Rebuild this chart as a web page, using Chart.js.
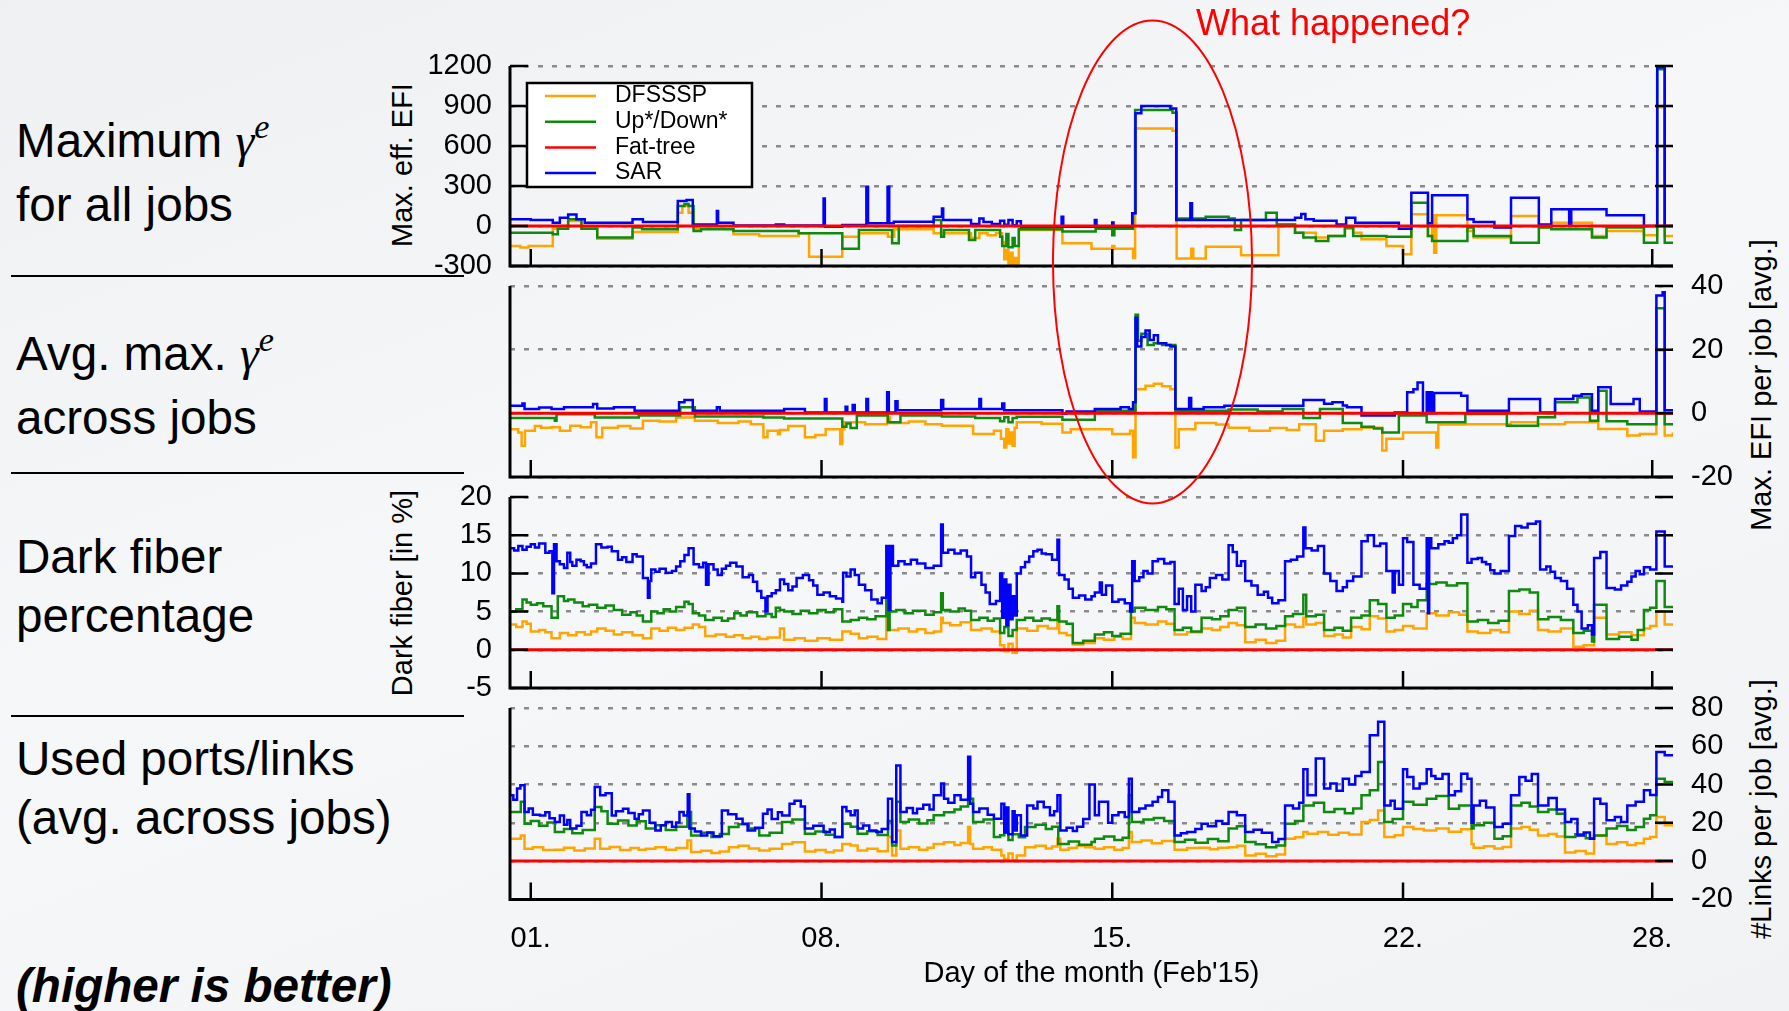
<!DOCTYPE html>
<html>
<head>
<meta charset="utf-8">
<script src="https://cdn.jsdelivr.net/npm/chart.js@4.4.1/dist/chart.umd.min.js"></script>
<style>
  html, body { margin: 0; padding: 0; }
  body {
    width: 1789px; height: 1011px; position: relative; overflow: hidden;
    background: linear-gradient(160deg, #eef0f2 0%, #f6f7f9 45%, #f1f2f4 100%);
    font-family: 'Liberation Sans', Arial, sans-serif; color: #000;
  }
  .panel { position: absolute; left: 380px; width: 1400px; }
  .lbl { position: absolute; left: 16px; font-size: 47.6px; line-height: 59px; white-space: nowrap; }
  .g { font-family: 'Liberation Serif', serif; font-style: italic; }
  .sup { font-size: 0.72em; position: relative; top: -0.55em; }
  .sep { position: absolute; left: 11px; width: 453px; height: 2px; background: #000; }
  .ytitle { position: absolute; font-size: 29px; white-space: nowrap; transform: translate(-50%, -50%) rotate(-90deg); }
</style>
</head>
<body>

<div class="lbl" style="top:111px">Maximum <span class="g">γ</span><span class="g sup">e</span><br>for all jobs</div>
<div class="sep" style="top:275px"></div>
<div class="lbl" style="top:324px">Avg. max. <span class="g">γ</span><span class="g sup">e</span><br>across jobs</div>
<div class="sep" style="top:472px"></div>
<div class="lbl" style="top:527px">Dark fiber<br>percentage</div>
<div class="sep" style="top:715px"></div>
<div class="lbl" style="top:729px">Used ports/links<br>(avg. across jobs)</div>
<div class="lbl" style="top:956px; font-weight:bold; font-style:italic">(higher is better)</div>

<div class="ytitle" style="left:402px; top:165px">Max. eff. EFI</div>
<div class="ytitle" style="left:402px; top:593px">Dark fiber [in %]</div>
<div class="ytitle" style="left:1761px; top:385px">Max. EFI per job [avg.]</div>
<div class="ytitle" style="left:1761px; top:809px">#Links per job [avg.]</div>

<div class="panel" style="top:30px; height:272px"><canvas id="c1"></canvas></div>
<div class="panel" style="top:250px; height:263px"><canvas id="c2"></canvas></div>
<div class="panel" style="top:461px; height:263px"><canvas id="c3"></canvas></div>
<div class="panel" style="top:672px; height:339px"><canvas id="c4"></canvas></div>

<div style="position:absolute; left:1196px; top:5px; font-size:36px; line-height:36px; color:#f00; white-space:nowrap">What happened?</div>
<svg style="position:absolute; left:0; top:0; pointer-events:none" width="1789" height="1011">
  <ellipse cx="1152.5" cy="262" rx="99.5" ry="241.5" fill="none" stroke="#f00" stroke-width="2"/>
</svg>

<script>
// x: days since Feb 1 00:00; ticks sit at midday
const tickDays = [0.5, 7.5, 14.5, 21.5, 27.5];
const tickLabels = ['01.', '08.', '15.', '22.', '28.'];
const seriesNames = ['DFSSSP', 'Up*/Down*', 'Fat-tree', 'SAR'];
const seriesColors = ['#ffa500', '#0f8a0f', '#ff0000', '#0000ff'];
const fatTree = [[0, 0], [28, 0]];

// panel 1: max. eff. EFI, [day, value] step breakpoints
const p1Dfsssp = [[0,-150],[0.25,-162],[0.45,-150],[1.03,-20],[1.2,0],[1.4,37],[1.72,-20],[2.1,-95],[2.95,-45],[4.04,100],[4.15,150],[4.3,100],[4.42,-20],[5.38,-62],[6.0,-75],[6.95,-55],[7.2,-230],[8.0,-80],[8.4,-55],[9.1,-80],[9.25,-25],[10.2,-55],[11.1,-90],[11.3,-55],[11.5,-70],[11.7,-55],[11.85,-120],[11.9,-250],[11.95,-180],[12.0,-300],[12.05,-200],[12.1,-290],[12.15,-240],[12.2,-300],[12.25,-30],[13.3,-130],[14.0,-170],[14.5,-150],[14.55,-170],[15.0,-240],[15.05,732],[15.95,715],[16.05,-243],[16.4,-170],[16.45,-243],[16.75,-155],[17.6,-220],[18.5,12],[18.9,-50],[19.4,-87],[19.7,-75],[20.1,-20],[20.3,-50],[20.5,-100],[21.1,-150],[21.5,-212],[21.7,88],[22.1,-75],[22.2,80],[22.25,-200],[22.3,80],[23.05,-37],[23.2,-87],[24.1,75],[24.77,-12],[25.07,25],[26.05,-75],[26.4,-37],[27.3,-70],[27.62,890],[27.8,-75],[28,-75]];
const p1Updown = [[0,-50],[1.03,-62],[1.15,-20],[1.4,50],[1.72,-20],[2.1,-87],[2.95,-12],[3.18,-25],[4.04,150],[4.2,165],[4.3,150],[4.42,-37],[4.6,-25],[5.38,-37],[6.95,-55],[8.0,-170],[8.4,-30],[9.2,-130],[9.36,0],[10.2,45],[10.38,-80],[10.45,-30],[11.05,-105],[11.2,-30],[11.8,-80],[11.85,-150],[11.95,-60],[12.0,-160],[12.1,-90],[12.15,-150],[12.25,-25],[13.3,-42],[14.1,0],[14.15,-20],[14.5,-70],[14.55,-20],[15.0,95],[15.05,870],[15.95,850],[16.05,57],[16.75,70],[17.3,57],[17.45,-30],[17.6,45],[18.2,100],[18.46,12],[18.9,-50],[19.1,-87],[19.4,-112],[19.7,-75],[20.1,-12],[20.3,-75],[21.1,-80],[21.7,175],[22.1,-75],[22.2,-112],[23.05,-12],[23.2,-75],[24.1,-125],[24.77,-12],[25.07,-25],[26.05,-87],[26.4,-12],[27.3,-125],[27.62,1175],[27.8,-125],[28,-125]];
const p1Sar = [[0,50],[0.5,45],[1.03,25],[1.2,62],[1.4,87],[1.6,50],[1.8,25],[2.95,50],[3.2,30],[4.04,187],[4.25,195],[4.4,12],[4.98,112],[5.01,25],[5.38,3],[6.4,12],[6.6,3],[7.55,207],[7.58,-5],[8.0,7],[8.58,295],[8.62,20],[9.09,295],[9.13,20],[9.24,32],[10.2,70],[10.4,132],[10.43,45],[11.1,15],[11.3,57],[11.4,30],[11.6,15],[11.8,40],[11.9,10],[12.0,45],[12.1,5],[12.2,35],[12.3,-5],[13.28,70],[13.32,-5],[14.08,45],[14.12,-5],[14.5,27],[14.53,-5],[14.98,95],[15.06,845],[15.2,900],[15.9,882],[16.04,45],[16.38,170],[16.42,45],[18.9,62],[19.05,90],[19.15,50],[19.35,40],[19.9,12],[20.13,62],[20.35,25],[21.4,-20],[21.7,250],[22.1,20],[22.2,230],[23.05,50],[23.2,30],[23.7,-12],[24.1,212],[24.77,12],[25.07,125],[25.5,0],[25.55,125],[26.4,80],[27.3,0],[27.62,1190],[27.8,0],[28,0]];

// panel 2: avg. max. EFI per job
const p2Dfsssp = [[0,-5],[0.2,-6],[0.28,-10.2],[0.36,-5.5],[0.6,-4],[0.75,-4.5],[1.0,-4.4],[1.2,-5.5],[1.45,-3.9],[1.7,-4.4],[1.95,-2.8],[2.08,-7.5],[2.22,-4.5],[2.6,-4.0],[2.9,-4.8],[3.2,-2.3],[3.6,-2.6],[4.0,-1.3],[4.45,-2.3],[5.0,-3.0],[5.5,-2.6],[5.8,-3.4],[6.1,-7.5],[6.2,-5.5],[6.45,-6.6],[6.5,-5.2],[6.7,-4],[7.1,-7.5],[7.35,-6.8],[7.6,-5],[7.95,-9.6],[8.0,-5],[8.05,-2.8],[8.55,-3.4],[9.08,-1.3],[9.15,-3],[9.6,-2.6],[10.0,-3.4],[10.4,-3.9],[11.15,-6.5],[11.65,-5.5],[11.82,-8],[11.9,-10.7],[11.95,-5],[12.0,-9.5],[12.05,-6],[12.1,-10.2],[12.15,-4.5],[12.2,-2.8],[12.8,-3.3],[13.3,-6],[13.5,-5],[14.5,-6.5],[14.93,-5.5],[15.0,-13.8],[15.06,7.6],[15.3,8.7],[15.5,9.3],[15.7,8.5],[15.9,7.6],[16.02,-10.7],[16.1,-5],[16.5,-3],[17.0,-3.5],[17.3,-4.5],[17.8,-5.5],[18.3,-4.6],[18.7,-5.2],[19.0,-3.4],[19.4,-8.6],[19.6,-5.5],[20.05,-5],[20.5,-4.5],[21.0,-11.7],[21.1,-8],[21.5,-6],[22.3,-10.7],[22.35,-3.5],[23.0,-3.4],[24.1,-2.8],[24.75,-3.4],[25.4,-2.8],[26.2,-4.9],[26.9,-7],[27.2,-6.5],[27.6,19.7],[27.8,-7],[28,-6]];
const p2Updown = [[0,-1.5],[1.08,-2.3],[1.12,-0.3],[2.04,-1.3],[3.1,-0.7],[4.1,1.9],[4.45,-1],[6.1,-1.3],[6.6,-1.6],[8.0,-4.2],[8.1,-3.2],[8.2,-4.6],[8.35,-0.7],[9.1,-2.8],[9.4,-0.7],[10.4,-1.0],[11.2,-1.5],[11.8,-2.5],[11.9,-1.2],[12.0,-2.8],[12.1,-1.5],[12.2,-1.1],[13.3,-2],[14.08,0.8],[15.06,31],[15.12,22.8],[15.2,25],[15.35,21.5],[15.5,22],[15.7,21.5],[16.02,0.8],[17.3,1.2],[18.0,0.6],[18.6,1.4],[19.1,-1.5],[19.5,1.4],[20.05,-3],[20.5,-4.2],[20.8,-4.8],[21.0,-6],[21.4,-0.7],[22.07,-2.8],[23.0,-0.2],[24.0,-3.9],[24.75,-1.2],[25.16,3.5],[25.7,5.0],[26.0,-2.3],[26.2,7.1],[26.4,-2.5],[26.9,-3.4],[27.6,33],[27.8,-3.4],[28,-3.4]];
const p2Sar = [[0,2.4],[0.3,3.1],[0.35,1.4],[0.7,1.8],[1.0,1.4],[1.3,1.9],[2.0,2.9],[2.1,1.5],[2.5,1.9],[3.0,0.8],[4.07,3.5],[4.2,4.2],[4.4,0.8],[4.98,1.9],[5.05,0.8],[6.6,1.4],[7.1,0.3],[7.58,4.5],[7.62,0.3],[8.08,2.1],[8.12,0.3],[8.25,2.6],[8.3,0.3],[8.58,4.5],[8.62,0.3],[9.08,6.6],[9.12,0.3],[9.28,3.8],[9.33,1.0],[10.38,4.2],[10.43,1.4],[11.3,4.5],[11.34,1.4],[11.85,3.1],[11.9,1.0],[13.3,-0.1],[13.4,0.6],[14.08,1.4],[14.7,1.9],[14.9,1.4],[15.0,3.5],[15.06,30],[15.1,21],[15.2,24],[15.3,26],[15.4,23],[15.5,24.5],[15.6,22],[15.8,21.5],[15.9,21],[16.02,1.4],[16.35,4.8],[16.4,1.4],[16.7,1.9],[17.2,2.4],[19.1,4.2],[19.6,3.0],[19.8,3.5],[20.05,2.5],[20.15,1.9],[20.5,-0.7],[21.3,0.3],[21.6,6.6],[21.75,7.6],[21.85,9.7],[21.98,0],[22.07,6.6],[22.12,0],[22.15,6.6],[22.2,0],[22.25,6.4],[22.9,5.5],[23.05,0.8],[24.05,4.5],[24.8,0.3],[25.16,4.5],[25.6,5.5],[25.8,6.0],[26.05,0.8],[26.2,8.2],[26.5,2.9],[27.05,4.5],[27.2,0.6],[27.6,37],[27.75,38],[27.8,1.0],[28,1.0]];

// panel 3: dark fiber [%]
const p3Dfsssp = [[0,3.3],[0.15,3.0],[0.3,3.7],[0.4,3.4],[0.5,2.4],[0.7,2.6],[0.85,2.3],[1.0,1.5],[1.2,2.2],[1.4,1.9],[1.6,2.3],[1.8,2.0],[1.95,2.4],[2.1,2.8],[2.3,2.5],[2.5,2],[2.7,2.3],[2.95,1.9],[3.2,1.5],[3.4,2.8],[3.6,2.5],[3.8,2.9],[4.0,2.6],[4.2,2.9],[4.4,3.3],[4.55,3.0],[4.7,1.8],[4.95,2.0],[5.2,1.7],[5.4,1.9],[5.6,1.5],[5.8,1.7],[6.0,1.4],[6.2,1.6],[6.5,2.8],[6.6,1.3],[6.85,1.5],[7.1,1.2],[7.4,1.5],[7.7,1.3],[8.0,2.4],[8.2,2.1],[8.4,1.5],[8.6,1.7],[8.85,1.4],[9.06,4.8],[9.12,2.6],[9.35,2.8],[9.6,2.4],[9.8,2.7],[10.0,2.2],[10.2,2.4],[10.38,4.2],[10.42,3.5],[10.6,3.2],[10.85,3.6],[11.1,2.6],[11.35,2.8],[11.6,2.4],[11.8,0.6],[11.9,-0.2],[12.0,0.8],[12.1,-0.4],[12.2,2.8],[12.45,2.5],[12.7,3.1],[12.95,2.8],[13.18,4.2],[13.22,2.2],[13.4,1.9],[13.55,0.7],[13.8,0.9],[14.08,1.5],[14.3,1.3],[14.55,1.7],[14.75,1.4],[14.95,4.2],[15.04,3.5],[15.3,3.3],[15.6,3.7],[15.8,3.4],[16.0,2],[16.3,2.3],[16.65,2.8],[16.9,2.6],[17.1,3.0],[17.3,3.5],[17.5,3.2],[17.7,1],[17.95,1.3],[18.2,0.9],[18.45,1.2],[18.66,3.3],[18.9,3.0],[19.1,4.2],[19.17,3.3],[19.4,3.5],[19.6,1.8],[19.85,2.0],[20.05,1.6],[20.25,3],[20.5,2.7],[20.7,4.4],[20.9,4.1],[21.1,2.4],[21.3,2.6],[21.5,3.1],[21.75,2.8],[22.07,4.8],[22.3,4.5],[22.6,4.9],[22.85,4.6],[23.05,2.4],[23.3,2.2],[23.6,2.6],[23.85,2.3],[24.05,5],[24.3,4.7],[24.55,5.1],[24.75,2.6],[25.0,2.4],[25.3,2.8],[25.6,0.4],[25.85,0.6],[26.1,4.2],[26.4,2],[26.7,2.3],[27.0,1.9],[27.3,2.8],[27.45,3.1],[27.6,5],[27.8,3.3],[28,3.3]];
const p3Updown = [[0,5],[0.15,5.3],[0.3,6.6],[0.4,6.2],[0.5,5.9],[0.65,6.1],[0.8,5.7],[1.0,4.2],[1.15,7],[1.3,6.4],[1.4,6.6],[1.55,6.2],[1.75,5.7],[1.9,5.9],[2.1,5.5],[2.3,5.8],[2.5,5.2],[2.7,4.6],[2.9,4.9],[3.05,4.5],[3.2,3.7],[3.4,5],[3.55,4.8],[3.7,5.3],[3.85,5.0],[4.0,5.6],[4.2,6.3],[4.3,6.0],[4.4,4.8],[4.55,4.5],[4.7,3.9],[4.9,4.2],[5.1,3.8],[5.25,4.1],[5.4,4.8],[5.55,4.5],[5.7,4.9],[5.95,4.4],[6.15,4.7],[6.3,4.3],[6.4,5.5],[6.5,5.2],[6.6,5],[6.8,4.7],[7.0,5.1],[7.2,4.8],[7.4,5.2],[7.6,4.9],[7.8,5.3],[8.0,3.7],[8.2,3.9],[8.4,4.2],[8.6,4.0],[8.8,4.4],[9.06,7.2],[9.1,2.6],[9.14,5],[9.3,5.2],[9.5,4.8],[9.7,5.1],[10.0,4.6],[10.2,4.9],[10.38,7.4],[10.42,5.2],[10.6,5.0],[10.8,5.4],[10.95,5.1],[11.1,3.9],[11.3,4.2],[11.5,3.8],[11.65,4.1],[11.8,2.2],[11.9,3.0],[12.0,1.8],[12.1,2.6],[12.2,3.9],[12.4,4.2],[12.6,3.8],[12.8,4.1],[13.0,3.9],[13.18,5.7],[13.22,3.7],[13.4,3.4],[13.55,0.9],[13.8,1.2],[14.08,2],[14.3,2.3],[14.5,1.8],[14.7,2.1],[14.95,5],[15.04,5.5],[15.3,5.2],[15.6,5.6],[15.8,5.3],[16.0,2.6],[16.2,2.9],[16.4,2.4],[16.65,4.2],[16.9,4.0],[17.1,4.4],[17.3,5.2],[17.5,5.5],[17.7,3],[17.95,3.3],[18.2,2.8],[18.45,3.1],[18.66,4.4],[18.85,4.7],[19.1,7.2],[19.17,4.4],[19.4,4.6],[19.6,2.6],[19.85,2.9],[20.05,2.5],[20.25,4.2],[20.5,4.5],[20.7,6.5],[20.9,6.0],[21.1,4.2],[21.3,4.5],[21.5,6],[21.7,5.6],[21.85,6.5],[22.07,8.6],[22.3,8.8],[22.55,8.4],[22.8,8.7],[23.05,3.7],[23.3,3.9],[23.55,3.5],[23.8,3.8],[24.05,7.7],[24.3,7.9],[24.55,7.5],[24.75,4],[25.0,4.3],[25.3,3.9],[25.6,2.2],[25.85,2.5],[26.05,1.1],[26.1,5.9],[26.4,1.4],[26.7,1.7],[27.0,1.3],[27.15,2.6],[27.3,5.2],[27.45,5.5],[27.6,9],[27.8,5.6],[28,5.6]];
const p3Sar = [[0,13.3],[0.1,13.0],[0.2,13.6],[0.3,13.1],[0.4,13.5],[0.5,13.8],[0.6,13.4],[0.7,13.9],[0.85,12.7],[0.95,12.9],[1.02,7.4],[1.06,13.8],[1.12,11.6],[1.2,11.2],[1.3,10.7],[1.38,12.7],[1.45,11.5],[1.5,11.0],[1.6,11.8],[1.7,11.6],[1.78,11.1],[1.85,10.8],[1.95,11.3],[2.07,13.8],[2.2,13.4],[2.35,13.5],[2.45,12.9],[2.6,11.8],[2.7,12.1],[2.8,11.5],[2.95,12.5],[3.05,12.2],[3.2,9.4],[3.32,6.8],[3.36,9.0],[3.4,10.5],[3.5,10.2],[3.6,10.6],[3.75,10.1],[3.9,10.3],[4.0,10.9],[4.1,11.6],[4.2,12.4],[4.3,13.3],[4.42,11.2],[4.55,10.8],[4.65,11.4],[4.72,8.5],[4.78,11.2],[4.9,10.5],[5.0,9.8],[5.1,10.6],[5.2,11.0],[5.3,11.4],[5.45,10.9],[5.6,9.5],[5.75,9.8],[5.85,8.9],[5.95,7.7],[6.05,6.8],[6.15,5],[6.2,7.0],[6.3,7.4],[6.4,7.8],[6.5,9.2],[6.6,8.6],[6.7,7.8],[6.8,8.3],[6.9,9.4],[7.05,9.8],[7.2,9.1],[7.3,8.4],[7.4,7.2],[7.55,7.5],[7.7,7.0],[7.85,6.7],[8.0,6.3],[8.02,10.1],[8.1,9.6],[8.2,10.5],[8.3,9.8],[8.4,8.5],[8.55,7.8],[8.7,6.6],[8.85,6.1],[8.95,6.8],[9.06,13.6],[9.12,5.2],[9.16,13.6],[9.22,11.0],[9.35,11.6],[9.5,11.2],[9.65,11.8],[9.8,11.3],[10.0,10.7],[10.2,11.0],[10.38,16.4],[10.42,12.7],[10.55,13.1],[10.7,12.6],[10.85,13.0],[11.0,12.2],[11.1,9.5],[11.2,10.1],[11.35,8.5],[11.45,7.5],[11.55,6.0],[11.7,6.4],[11.8,10],[11.85,4.2],[11.9,9.2],[11.95,3.2],[12.0,8.5],[12.05,4.0],[12.1,7.0],[12.15,4.5],[12.2,10],[12.3,10.8],[12.4,11.5],[12.5,12.2],[12.6,12.9],[12.7,13.1],[12.8,12.6],[12.9,12.5],[13.05,11.8],[13.18,14.4],[13.22,9.8],[13.35,9.2],[13.45,8.0],[13.55,6.8],[13.7,7.1],[13.85,6.6],[14.0,7.0],[14.08,7.5],[14.2,8.8],[14.25,7.2],[14.35,8.4],[14.5,6.3],[14.65,6.6],[14.8,6.1],[14.93,5],[14.98,11.6],[15.04,9],[15.15,9.5],[15.25,10.3],[15.35,10.0],[15.47,11.6],[15.6,11.9],[15.75,11.3],[15.9,11.5],[16.0,6.0],[16.1,8.0],[16.2,5.2],[16.3,7.0],[16.4,5.0],[16.5,8.5],[16.65,7.7],[16.75,8.2],[16.85,9.4],[17.0,9.8],[17.15,9.2],[17.3,13.7],[17.4,12.8],[17.5,11],[17.6,11.6],[17.7,9],[17.85,8.4],[18.0,7.2],[18.15,7.6],[18.25,6.8],[18.35,6.1],[18.5,6.5],[18.66,11.6],[18.8,11.8],[18.95,12.2],[19.1,16],[19.15,13.3],[19.3,13.0],[19.45,13.6],[19.6,10],[19.75,9.0],[19.9,7.7],[20.05,8.2],[20.15,9],[20.3,9.6],[20.5,14.2],[20.65,15],[20.8,13.6],[20.95,13.9],[21.1,10.3],[21.25,7.5],[21.3,10.3],[21.4,8.5],[21.5,14.6],[21.6,14.1],[21.75,8.5],[21.9,8.0],[22.07,14.6],[22.1,4.8],[22.13,14.6],[22.18,13.3],[22.35,13.8],[22.5,14.2],[22.6,14.0],[22.7,14.6],[22.8,15.0],[22.9,17.7],[23.05,11.4],[23.15,11.9],[23.3,12.0],[23.4,11.5],[23.5,11.2],[23.6,10.4],[23.7,10],[23.85,10.3],[24.05,14.9],[24.2,16.2],[24.35,16.0],[24.5,16.5],[24.7,16.8],[24.8,10.5],[24.95,10.9],[25.05,10.2],[25.16,9.4],[25.3,9.0],[25.45,8.0],[25.6,5.9],[25.7,5.0],[25.8,2.8],[25.95,3.2],[26.05,2.0],[26.1,12],[26.25,12.8],[26.4,8.1],[26.6,7.9],[26.75,8.4],[26.9,8.9],[27.0,9.6],[27.1,10.3],[27.2,9.9],[27.3,10.8],[27.45,10.5],[27.6,15.5],[27.8,10.9],[28,11]];

// panel 4: used links per job [avg.]
const p4Dfsssp = [[0,11.7],[0.26,13.4],[0.35,6.5],[0.55,7.2],[0.8,5.8],[1.08,6],[1.3,7.0],[1.55,5.6],[1.8,6.6],[2.04,11.7],[2.17,6.5],[2.4,7.4],[2.65,5.8],[2.9,6.8],[3.1,5.9],[3.27,6.5],[3.5,7.3],[3.75,5.9],[4.0,6.8],[4.27,10.8],[4.36,4.7],[4.6,5.4],[4.85,4.2],[5.05,5.0],[5.27,7.3],[5.5,8.0],[5.75,6.6],[6.0,5.6],[6.25,6.4],[6.55,9],[6.8,9.8],[7.1,5],[7.35,5.8],[7.6,4.6],[7.8,5.5],[8.0,9],[8.2,8.2],[8.37,5.6],[8.6,6.4],[8.85,5.2],[9.1,12.6],[9.2,3],[9.3,16],[9.4,6.5],[9.6,7.3],[9.85,6.0],[10.05,7.0],[10.2,9],[10.45,9.8],[10.7,8.4],[10.85,9.5],[11.03,17.8],[11.08,9],[11.15,6.5],[11.4,7.2],[11.6,6.0],[11.83,3],[11.9,1],[12.0,4],[12.1,0.5],[12.2,3],[12.4,7.3],[12.65,8.0],[12.9,6.6],[13.05,7.6],[13.18,11.7],[13.25,6],[13.45,6.8],[13.65,8],[13.85,7.2],[14.08,6.5],[14.3,7.3],[14.55,6.0],[14.75,6.8],[14.9,15.2],[14.97,10],[15.2,10.8],[15.45,9.4],[15.7,10.5],[16.0,6],[16.3,6.8],[16.6,7],[16.85,6.2],[17.05,7.0],[17.3,7.3],[17.5,8.0],[17.7,3],[17.95,3.8],[18.2,2.6],[18.45,3.4],[18.66,11.7],[18.9,12.5],[19.1,15.2],[19.2,14.3],[19.45,15.2],[19.7,13.8],[19.95,14.8],[20.2,13.9],[20.5,20.4],[20.7,21.5],[20.9,26.5],[21.05,12.6],[21.3,13.5],[21.5,17.8],[21.75,16.8],[22.0,16],[22.3,17.0],[22.6,15.4],[22.9,16.6],[23.15,9],[23.2,7],[23.45,7.8],[23.7,6.6],[23.9,7.4],[24.1,17],[24.35,17.8],[24.55,16.4],[24.75,13.4],[25.0,14.2],[25.2,12.8],[25.4,4.5],[25.65,5.3],[25.9,4.0],[26.1,13.4],[26.4,9],[26.65,9.8],[26.9,8.4],[27.1,9.4],[27.3,11.7],[27.45,12.6],[27.6,23],[27.8,18.7],[28,18.7]];
const p4Updown = [[0,25.7],[0.26,31],[0.35,19.5],[0.5,21],[0.7,18.5],[0.9,20.2],[1.08,15.2],[1.3,16.8],[1.5,14.5],[1.75,16.2],[2.04,28.3],[2.2,26.0],[2.35,19.5],[2.6,21.2],[2.85,18.6],[3.05,20.8],[3.27,17],[3.5,18.8],[3.75,16.2],[4.0,18.0],[4.27,25.7],[4.36,13.4],[4.6,14.8],[4.85,12.6],[5.05,14.2],[5.27,17.8],[5.5,19.2],[5.75,17.0],[6.0,13.4],[6.25,14.8],[6.55,20.4],[6.8,21.8],[7.1,14.3],[7.35,15.5],[7.6,13.8],[7.82,12.6],[8.0,19.5],[8.2,18.0],[8.37,14.3],[8.6,15.6],[8.85,13.6],[9.1,21],[9.2,8.2],[9.3,31],[9.4,20.4],[9.6,21.8],[9.85,19.6],[10.05,21.4],[10.2,24],[10.45,25.5],[10.7,27],[10.85,28.5],[11.03,32.6],[11.15,20.4],[11.4,21.8],[11.65,12.6],[11.8,13.5],[11.9,15],[12.0,11],[12.1,14],[12.25,12.5],[12.4,17.8],[12.65,19.0],[12.9,16.8],[13.05,18.0],[13.2,9],[13.45,10.2],[13.7,8.6],[14.0,10],[14.08,11.7],[14.3,12.8],[14.55,11.0],[14.75,12.2],[14.9,34.4],[14.97,20.4],[15.25,21.8],[15.5,22.5],[15.75,21.0],[16.0,10],[16.25,11.2],[16.5,9.6],[16.8,11.5],[17.05,10.4],[17.3,17],[17.5,18.2],[17.7,10],[17.95,8.8],[18.2,7.3],[18.45,8.2],[18.66,19.5],[18.9,21.0],[19.1,29],[19.35,30.5],[19.6,25.7],[19.85,27.2],[20.1,25.0],[20.3,27.5],[20.5,34.4],[20.7,37.0],[20.9,51.8],[21.05,20.4],[21.25,22.0],[21.5,31],[21.75,29.5],[22.07,32.6],[22.3,34.0],[22.6,27.4],[22.85,29.0],[23.15,17],[23.2,18.7],[23.45,20.0],[23.7,11.7],[23.9,13.0],[24.1,29],[24.35,30.5],[24.55,28.5],[24.75,25.7],[25.0,27.0],[25.2,24.8],[25.4,12.6],[25.65,14.0],[25.9,12.0],[26.1,13.4],[26.4,17],[26.65,18.4],[26.9,16.2],[27.1,17.8],[27.3,22.2],[27.45,24.0],[27.6,43],[27.8,41.4],[28,41]];
const p4Sar = [[0,34.4],[0.08,32],[0.17,37.9],[0.25,39.6],[0.35,25.7],[0.45,27.5],[0.55,24.2],[0.72,23.9],[0.85,25.5],[0.95,22.4],[1.08,20.4],[1.2,23.9],[1.3,19],[1.38,21.5],[1.45,17],[1.6,18.5],[1.72,25.7],[1.85,24.0],[1.95,26.8],[2.04,38.7],[2.17,34.4],[2.3,35.5],[2.45,23.9],[2.55,26.0],[2.72,27.4],[2.85,25.2],[3.0,22.2],[3.1,24.5],[3.2,26.5],[3.36,20],[3.5,16],[3.63,18.7],[3.75,20.5],[3.9,18.0],[4.0,20.2],[4.08,25.7],[4.18,23.8],[4.28,35],[4.32,17],[4.45,15.5],[4.6,13.4],[4.75,15.0],[4.9,13.0],[5.1,26.5],[5.25,24.5],[5.45,22.2],[5.6,19.5],[5.72,16],[5.9,17.5],[6.09,24.8],[6.2,27],[6.3,22],[6.45,25.5],[6.55,23.9],[6.73,30],[6.85,31.5],[7.0,28.5],[7.1,17],[7.3,18.5],[7.55,15.2],[7.7,16.5],[7.82,12.6],[8.0,28.3],[8.1,26.0],[8.2,24],[8.3,26.5],[8.37,17],[8.5,18.6],[8.65,16.0],[8.82,15.2],[8.95,16.8],[9.1,32.6],[9.2,10],[9.3,50],[9.4,25.7],[9.55,27.8],[9.7,25.0],[9.8,27.4],[9.95,29.5],[10.1,27.0],[10.2,34.4],[10.38,40.5],[10.45,32.6],[10.55,30.5],[10.7,34.4],[10.85,32.0],[11.03,54.5],[11.08,30],[11.15,25.7],[11.3,27.5],[11.5,24.2],[11.65,22.2],[11.83,30],[11.9,15],[11.95,28],[12.0,14],[12.1,26],[12.15,16],[12.2,24],[12.3,13.4],[12.45,29],[12.6,27.5],[12.7,31],[12.85,28.2],[13.0,24],[13.1,26.0],[13.18,34.4],[13.25,16],[13.4,17.5],[13.55,15.8],[13.65,18],[13.8,22],[13.95,40],[14.08,24],[14.18,31],[14.3,31],[14.4,20],[14.5,24],[14.65,25.5],[14.8,23.0],[14.9,43],[14.97,25.7],[15.15,27.5],[15.3,29],[15.47,31],[15.6,33.5],[15.7,37],[15.85,31],[16.0,13.4],[16.15,14.5],[16.3,15.2],[16.5,16.8],[16.65,19.5],[16.8,18.2],[17.0,21],[17.15,19.5],[17.3,25.7],[17.5,24.0],[17.7,15.2],[17.9,16.4],[18.1,14.8],[18.35,10],[18.5,11.5],[18.66,29],[18.85,27.5],[19.0,30.5],[19.1,48],[19.2,34.4],[19.4,53.6],[19.6,37.9],[19.75,40.5],[19.9,36.8],[20.05,43],[20.2,40.0],[20.35,44.5],[20.5,46.6],[20.7,65.8],[20.9,72.8],[21.05,29],[21.2,31.5],[21.3,27.4],[21.5,48],[21.6,44.0],[21.75,37.9],[21.9,40.5],[22.07,48],[22.18,44.5],[22.28,43],[22.45,45.5],[22.6,34.4],[22.75,36.5],[22.9,45.7],[23.05,43.0],[23.15,20],[23.2,29],[23.35,31.5],[23.5,28.0],[23.7,17.8],[23.9,19.5],[24.1,34.4],[24.3,44],[24.45,42.0],[24.6,45.5],[24.75,29],[25.0,33],[25.2,27],[25.4,20.4],[25.55,22.0],[25.7,13.4],[25.85,15.0],[26.0,11.7],[26.1,32.6],[26.25,30.0],[26.4,21.3],[26.6,23.0],[26.75,20.5],[26.9,29],[27.1,31.0],[27.3,37],[27.45,34.5],[27.6,57],[27.8,55.3],[28,55]];

// y ranges: [min, max, step]
const p1Range = [-300, 1200, 300];
const p2Range = [-20, 40, 20];
const p3Range = [-5, 20, 5];
const p4Range = [-20, 80, 20];

const font = "'Liberation Sans', Arial, sans-serif";
Chart.defaults.font.family = font;
Chart.defaults.font.size = 29;
Chart.defaults.color = '#000';

// black left/bottom border + inward tick marks
const framePlugin = {
  id: 'frame',
  afterDatasetsDraw(chart, args, opts) {
    const { ctx, chartArea: a, scales: { x, y } } = chart;
    ctx.save();
    ctx.strokeStyle = '#000';
    ctx.lineWidth = 2.5;
    ctx.beginPath();
    tickDays.forEach(d => {
      const px = x.getPixelForValue(d);
      ctx.moveTo(px, a.bottom);
      ctx.lineTo(px, a.bottom - 17);
    });
    y.ticks.forEach(t => {
      const py = y.getPixelForValue(t.value);
      if (opts.left) { ctx.moveTo(a.left, py); ctx.lineTo(a.left + 18, py); }
      ctx.moveTo(a.right, py); ctx.lineTo(a.right - 18, py);
    });
    ctx.stroke();
    ctx.lineWidth = 3;
    ctx.beginPath();
    ctx.moveTo(a.left, a.top);
    ctx.lineTo(a.left, a.bottom);
    ctx.lineTo(a.right, a.bottom);
    ctx.stroke();
    ctx.restore();
  }
};

// boxed legend inside the top panel
const boxLegend = {
  id: 'boxLegend',
  afterDraw(chart) {
    const { ctx, chartArea: a } = chart;
    const x0 = a.left + 17, y0 = a.top + 17, w = 225, h = 104;
    ctx.save();
    ctx.fillStyle = '#fff';
    ctx.fillRect(x0, y0, w, h);
    ctx.strokeStyle = '#000';
    ctx.lineWidth = 2.5;
    ctx.strokeRect(x0, y0, w, h);
    ctx.font = '23px ' + font;
    ctx.textBaseline = 'middle';
    chart.data.datasets.forEach((ds, i) => {
      const yy = y0 + 13 + i * 25.7;
      ctx.strokeStyle = ds.borderColor;
      ctx.lineWidth = 2.5;
      ctx.beginPath();
      ctx.moveTo(x0 + 18, yy);
      ctx.lineTo(x0 + 69, yy);
      ctx.stroke();
      ctx.fillStyle = '#000';
      ctx.fillText(ds.label, x0 + 88, yy);
    });
    ctx.restore();
  }
};

function lines(d, u, s, w) {
  const order = [3, 2, 0, 1];
  return [d, u, fatTree, s].map((data, i) => ({
    label: seriesNames[i],
    data,
    borderColor: seriesColors[i],
    borderWidth: i === 2 ? w + 0.5 : w,
    order: order[i],
    stepped: true,
    pointRadius: 0,
    fill: false,
  }));
}

// pad: [top, bottom] layout padding; y labels need ~35px overhang
function makePanel(id, datasets, range, side, pad, bottom, extra) {
  const left = side === 'left';
  new Chart(document.getElementById(id), {
    type: 'line',
    data: { datasets },
    plugins: [framePlugin].concat(extra || []),
    options: {
      responsive: true,
      maintainAspectRatio: false,
      animation: false,
      events: [],
      layout: { padding: { left: left ? 0 : 130, right: left ? 107 : 0, top: pad[0], bottom: pad[1] } },
      plugins: {
        legend: { display: false },
        tooltip: { enabled: false },
        frame: { left },
      },
      scales: {
        x: {
          type: 'linear',
          min: 0,
          max: 28,
          grid: { display: false, drawTicks: false },
          border: { display: false },
          afterBuildTicks: sc => { sc.ticks = tickDays.map(v => ({ value: v })); },
          ticks: {
            display: bottom,
            padding: 22,
            autoSkip: false,
            maxRotation: 0,
            callback: (v, i) => tickLabels[i],
          },
          // tick padding is counted twice in the box height, pull the title back up
          title: { display: bottom, text: "Day of the month (Feb'15)", padding: { top: -22, bottom: 0 } },
        },
        y: {
          position: side,
          min: range[0],
          max: range[1],
          afterFit: sc => { sc.width = left ? 130 : 107; },
          ticks: { stepSize: range[2], padding: 18, autoSkip: false, callback: v => String(v) },
          grid: { color: '#8a8a8a', lineWidth: 2.5, drawTicks: false },
          border: { display: false, dash: [5, 9] },
        },
      },
    },
  });
}

makePanel('c1', lines(p1Dfsssp, p1Updown, p1Sar, 2.5), p1Range, 'left', [36, 36], false, [boxLegend]);
makePanel('c2', lines(p2Dfsssp, p2Updown, p2Sar, 2.5), p2Range, 'right', [36, 36], false);
makePanel('c3', lines(p3Dfsssp, p3Updown, p3Sar, 2.5), p3Range, 'left', [36, 36], false);
makePanel('c4', lines(p4Dfsssp, p4Updown, p4Sar, 2.5), p4Range, 'right', [36, 20], true);
</script>
</body>
</html>
